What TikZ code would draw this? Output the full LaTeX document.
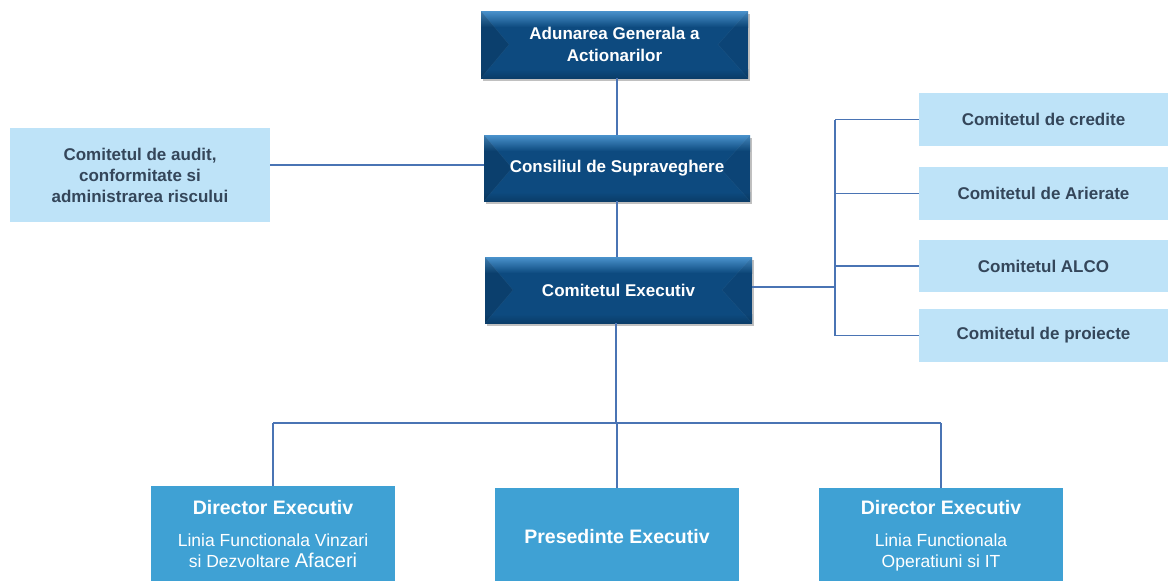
\documentclass[tikz,border=0pt]{standalone}
\usepackage{fontspec}
\setmainfont{Liberation Sans}
\usetikzlibrary{shadows,calc}
\definecolor{facecol}{HTML}{0D4A7F}
\definecolor{toplight}{HTML}{4A92CC}
\definecolor{botcol}{HTML}{0A3D69}
\definecolor{lightbox}{HTML}{BEE3F8}
\definecolor{lighttext}{HTML}{34465A}
\definecolor{midbox}{HTML}{3FA1D4}
\definecolor{linecol}{HTML}{4A74B4}
\begin{document}
\begin{tikzpicture}[x=1pt,y=-1pt,
  darkbox/.style={inner sep=0pt, text=white, align=center,
    font=\bfseries\fontsize{17}{22}\selectfont,
    drop shadow={shadow xshift=2pt, shadow yshift=-3pt, opacity=0.35, fill=black!70},
    path picture={
      \coordinate (pNW) at (path picture bounding box.north west);
      \coordinate (pNE) at (path picture bounding box.north east);
      \coordinate (pSW) at (path picture bounding box.south west);
      \coordinate (pSE) at (path picture bounding box.south east);
      \coordinate (pW) at (path picture bounding box.west);
      \coordinate (pE) at (path picture bounding box.east);
      \fill[facecol] (pNW) rectangle (pSE);
      \shade[top color=toplight, bottom color=facecol]
        (pNW) rectangle ([yshift=-16pt]pNE);
      \shade[top color=facecol, bottom color=botcol]
        ([yshift=9pt]pSW) rectangle (pSE);
      \fill[black, opacity=0.14] (pNW) -- ([xshift=28pt]pW) -- (pSW) -- cycle;
      \fill[black, opacity=0.07] (pNE) -- ([xshift=-30pt]pE) -- (pSE) -- cycle;
      \draw[white, opacity=0.05, line width=0.5pt] (pNW) -- ([xshift=28pt]pW) -- (pSW);
      \draw[white, opacity=0.05, line width=0.5pt] (pNE) -- ([xshift=-30pt]pE) -- (pSE);
    }},
  lbox/.style={fill=lightbox, inner sep=0pt, text=lighttext, align=center,
    font=\bfseries\fontsize{17}{21}\selectfont},
  mbox/.style={fill=midbox, inner sep=0pt, text=white, align=center,
    font=\fontsize{17.5}{21.5}\selectfont, minimum width=244pt},
  conn/.style={draw=linecol, line width=1.4pt}
]
\useasboundingbox (0,0) rectangle (1168,581);
\fill[white] (0,0) rectangle (1168,581);

% dark bevelled boxes
\node[darkbox, minimum width=267pt, minimum height=67pt] (top) at (614.5,44.5) {Adunarea Generala a\\Actionarilor};
\node[darkbox, minimum width=266pt, minimum height=66pt] (cons) at (617,168) {Consiliul de Supraveghere};
\node[darkbox, minimum width=267pt, minimum height=66pt] (exec) at (618.5,290) {Comitetul Executiv};

% audit
\node[lbox, minimum width=260pt, minimum height=94pt] (audit) at (140,175) {Comitetul de audit,\\conformitate si\\administrarea riscului};

% committees
\node[lbox, minimum width=249pt, minimum height=53pt] (c1) at (1043.5,119.5) {Comitetul de credite};
\node[lbox, minimum width=249pt, minimum height=53pt] (c2) at (1043.5,193.5) {Comitetul de Arierate};
\node[lbox, minimum width=249pt, minimum height=52pt] (c3) at (1043.5,266) {Comitetul ALCO};
\node[lbox, minimum width=249pt, minimum height=53pt] (c4) at (1043.5,335.5) {Comitetul de proiecte};

% bottom boxes
\node[mbox, minimum height=97pt] (d1) at (273,534.5)
  {{\bfseries\fontsize{19.5}{21}\selectfont Director Executiv}\\[10pt]Linia Functionala Vinzari\\si Dezvoltare {\fontsize{20}{21}\selectfont Afaceri}};
\node[mbox, minimum height=98pt] (pres) at (617,537)
  {\bfseries\fontsize{19.5}{21}\selectfont Presedinte Executiv};
\node[mbox, minimum height=96pt] (d2) at (941,536)
  {{\bfseries\fontsize{19.5}{21}\selectfont Director Executiv}\\[10pt]Linia Functionala\\Operatiuni si IT};

% connectors
\coordinate (bus) at (835,287);
\coordinate (hub) at (616,423);
\draw[conn] (cons.north) -- (cons.north |- top.south);
\draw[conn] (cons.south) -- (cons.south |- exec.north);
\draw[conn] (audit.east |- 0,165) -- (cons.west |- 0,165);
\draw[conn] (exec.east |- bus) -- (bus);
\draw[conn] (c1.west -| bus) -- (c4.west -| bus);
\foreach \c in {c1,c2,c3,c4} { \draw[conn] (\c.west -| bus) -- (\c.west); }
\draw[conn] (exec.south -| hub) -- (hub);
\draw[conn] (d1.north |- hub) -- (d2.north |- hub);
\draw[conn] (d1.north |- hub) -- (d1.north);
\draw[conn] (pres.north |- hub) -- (pres.north);
\draw[conn] (d2.north |- hub) -- (d2.north);
\end{tikzpicture}
\end{document}
